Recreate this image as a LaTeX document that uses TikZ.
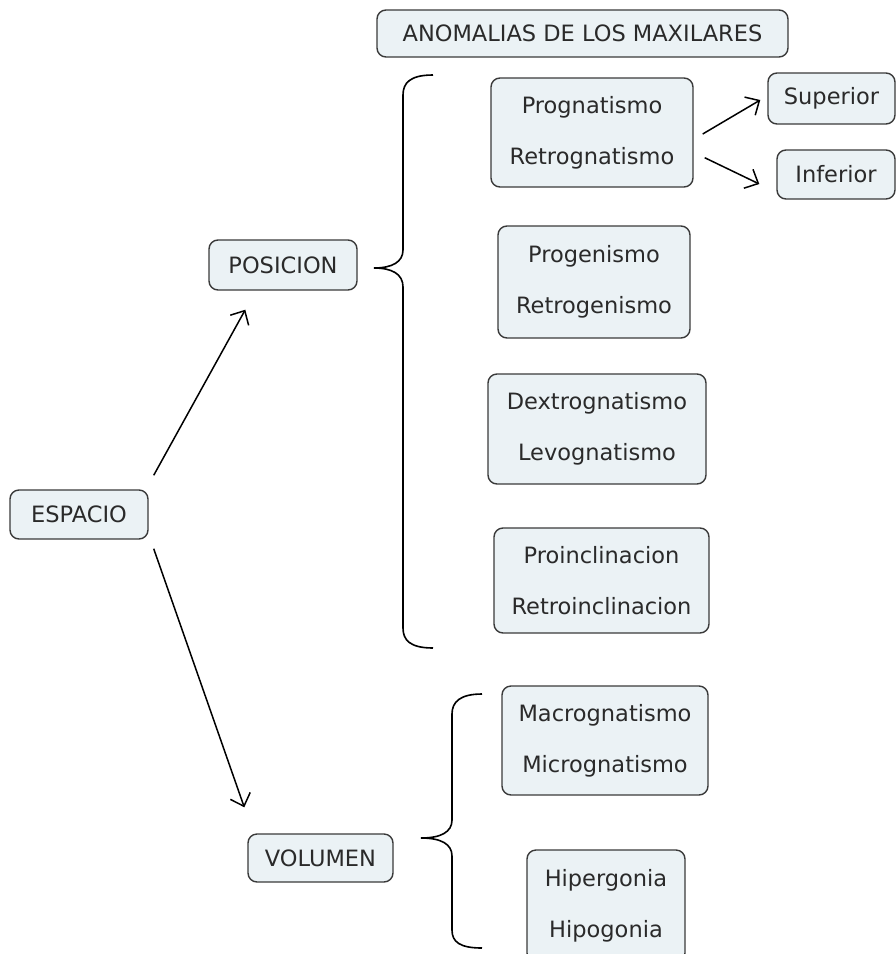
\documentclass[tikz,border=0pt]{standalone}
\usepackage{fontspec}
\setmainfont{DejaVu Sans}
\usetikzlibrary{arrows.meta,calc}
\definecolor{boxfill}{HTML}{EBF2F5}
\definecolor{boxline}{HTML}{3A3A3A}
\definecolor{txt}{HTML}{2A2A2A}
\begin{document}
\begin{tikzpicture}[x=1pt,y=-1pt,
  box/.style={draw=boxline,fill=boxfill,line width=1.4pt,rounded corners=9pt,
    inner sep=0pt,align=center,text=txt,font=\fontsize{22.5}{51}\selectfont},
  conn/.style={line width=1.5pt,-{Straight Barb[length=11pt,width=21pt]}},
  brace/.style={line width=1.6pt}]
\useasboundingbox (0,0) rectangle (896,954);
\node[box,minimum width=411,minimum height=47] (title) at (582.5,33.5) {ANOMALIAS DE LOS MAXILARES};
\node[box,minimum width=202,minimum height=109] (prog) at (592,132.5) {Prognatismo\\Retrognatismo};
\node[box,minimum width=127,minimum height=51] (sup) at (831.5,98.5) {Superior};
\node[box,minimum width=118,minimum height=49] (inf) at (836,174.5) {Inferior};
\node[box,minimum width=148,minimum height=50] (posicion) at (283,265) {POSICION};
\node[box,minimum width=192,minimum height=112] (progen) at (594,282) {Progenismo\\Retrogenismo};
\node[box,minimum width=218,minimum height=110] (dextro) at (597,429) {Dextrognatismo\\Levognatismo};
\node[box,minimum width=215,minimum height=105] (proincl) at (601.5,580.5) {Proinclinacion\\Retroinclinacion};
\node[box,minimum width=206,minimum height=109] (macro) at (605,740.5) {Macrognatismo\\Micrognatismo};
\node[box,minimum width=158,minimum height=112] (hiper) at (606,906) {Hipergonia\\Hipogonia};
\node[box,minimum width=145,minimum height=48] (volumen) at (320.5,858) {VOLUMEN};
\node[box,minimum width=138,minimum height=49] (espacio) at (79,514.5) {ESPACIO};
% connectors
\draw[conn] ($(prog.east)+(9,1.5)$) -- ($(sup.west)+(-7,1.5)$);
\draw[conn] ($(prog.south east)+(11,-30)$) -- ($(inf.west)+(-17,9.5)$);
\draw[conn] ($(espacio.north east)+(5,-14)$) -- ($(posicion.south west)+(37,19)$);
\draw[conn] ($(espacio.south east)+(5,9)$) -- ($(volumen.north west)+(-3,-26)$);
% braces
\draw[brace] (433,75) .. controls (410,75) and (403,83) .. (403,95) -- (403,250)
  .. controls (403,262) and (392,268) .. (374,268)
  .. controls (392,268) and (403,274) .. (403,287) -- (403,628)
  .. controls (403,640) and (410,648) .. (433,648);
\draw[brace] (482,694) .. controls (460,694) and (452,702) .. (452,714) -- (452,820)
  .. controls (452,832) and (441,838) .. (421,838)
  .. controls (441,838) and (452,844) .. (452,856) -- (452,930)
  .. controls (452,942) and (460,948) .. (482,948);
\end{tikzpicture}
\end{document}
